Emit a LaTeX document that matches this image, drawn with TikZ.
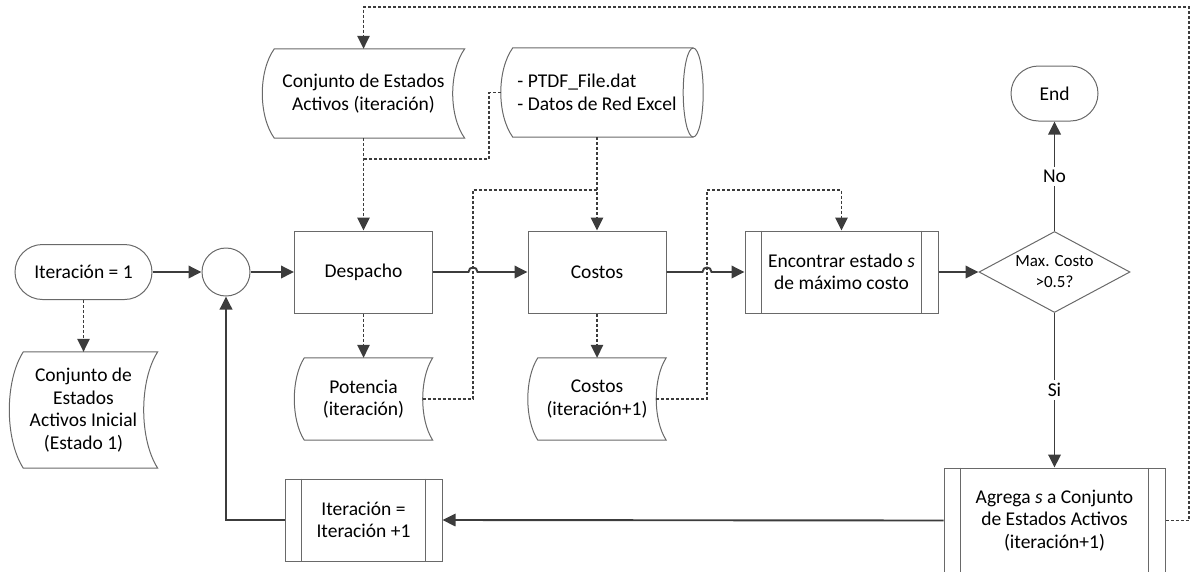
\documentclass[tikz,border=0pt]{standalone}
\usepackage{fontspec}
\setmainfont{Carlito}
\usetikzlibrary{arrows.meta,shapes.geometric,calc}

\definecolor{edgec}{RGB}{60,60,60}
\definecolor{olc}{RGB}{105,105,105}

% outline of a stored-data symbol drawn over a plain node (#1 = node, #2 = bulge)
\newcommand\storedoutline[2]{%
  \draw[outline] ([xshift=#2pt]#1.north west) -- (#1.north east)
    .. controls ($(#1.north east)!0.25!(#1.south east)+(-#2*1.333,0)$)
           and ($(#1.north east)!0.75!(#1.south east)+(-#2*1.333,0)$) .. (#1.south east)
    -- ([xshift=#2pt]#1.south west)
    .. controls ($(#1.north west)!0.75!(#1.south west)+(-#2/3,0)$)
           and ($(#1.north west)!0.25!(#1.south west)+(-#2/3,0)$) .. cycle;}

% the two inner bars of a predefined-process box
\newcommand\sidebars[1]{%
  \draw[outline] ([xshift=17pt]#1.north west) -- ([xshift=17pt]#1.south west)
                 ([xshift=-17pt]#1.north east) -- ([xshift=-17pt]#1.south east);}

\begin{document}
\begin{tikzpicture}[x=1pt,y=-1pt,
  every node/.style={font=\fontsize{19.5}{22.5}\selectfont, align=center, inner sep=0pt},
  outline/.style={draw=olc, line width=1pt},
  process/.style={outline, rectangle},
  terminal/.style={outline, rectangle, rounded corners=27.5pt, minimum height=55pt},
  junction/.style={outline, circle, minimum size=48pt},
  decision/.style={outline, diamond, minimum width=151pt, minimum height=81pt},
  holder/.style={rectangle},
  tip/.style={-{Triangle[length=13pt,width=12.5pt]}},
  flow/.style={draw=edgec, line width=1.9pt, tip},
  dataflow/.style={draw=edgec, line width=1.5pt, dash pattern=on 3pt off 2pt, tip},
  datalink/.style={draw=edgec, line width=1.5pt, dash pattern=on 3pt off 2pt},
  tag/.style={fill=white, inner sep=3pt}
]
\useasboundingbox (0,0) rectangle (1191,571);

% ---------- main row ----------
\node[terminal, minimum width=137pt] (start) at (83.5,272) {Iteración = 1};
\node[junction] (merge) at (226,272) {};
\node[process, minimum width=138pt, minimum height=82pt] (desp) at (363.5,272) {Despacho};
\node[process, minimum width=138pt, minimum height=82pt] (cost) at (597,272) {Costos};
\node[process, minimum width=193pt, minimum height=82pt] (find) at (841.5,272)
  {Encontrar estado \textit{s}\\de máximo costo};
\sidebars{find}
\node[decision] (dec) at (1054.5,272) {};
\node[font=\fontsize{17}{21}\selectfont] (dectext) at (dec.center) {Max. Costo\\>0.5?};
\node[terminal, minimum width=87pt] (stop) at (1054.5,93.5) {End};

% ---------- lower row ----------
\node[process, minimum width=221pt, minimum height=105pt] (add) at (1054.5,520.5)
  {Agrega \textit{s} a Conjunto\\de Estados Activos\\(iteración+1)};
\sidebars{add}
\node[process, minimum width=157pt, minimum height=82pt] (incr) at (363.5,520)
  {Iteración =\\Iteración +1};
\sidebars{incr}

% ---------- data symbols ----------
\node[holder, minimum width=202pt, minimum height=89pt] (set) at (363.5,93.5)
  {Conjunto de Estados\\Activos (iteración)};
\storedoutline{set}{12}
\node[holder, minimum width=192pt, minimum height=89pt, align=left] (ptdf) at (597,92.5)
  {- PTDF\_File.dat\\- Datos de Red Excel};
\draw[outline] (ptdf.north east) -- ([xshift=12pt]ptdf.north west)
  .. controls ($(ptdf.north west)!0.25!(ptdf.south west)+(-4,0)$)
         and ($(ptdf.north west)!0.75!(ptdf.south west)+(-4,0)$) .. ([xshift=12pt]ptdf.south west)
  -- (ptdf.south east);
\draw[outline] (ptdf.east) ellipse [x radius=10, y radius=44.5];
\node[holder, minimum width=138pt, minimum height=82pt] (pot) at (363.5,399)
  {Potencia\\(iteración)};
\storedoutline{pot}{10}
\node[holder, minimum width=138pt, minimum height=82pt] (costnew) at (597,399)
  {Costos\\(iteración+1)};
\storedoutline{costnew}{10}
\node[holder, minimum width=148pt, minimum height=116pt] (init) at (83.5,410)
  {Conjunto de\\Estados\\Activos Inicial\\(Estado 1)};
\storedoutline{init}{14}

% ---------- helper corners ----------
\coordinate (hopA) at (473,272);
\coordinate (hopB) at (707,272);
\coordinate (jSet) at (489,159);
\coordinate (jPot) at (473,190);
\coordinate (jCost) at (707,190);
\coordinate (loopTop) at (1189,7);

% ---------- solid flow ----------
\draw[flow] (start.east) -- (merge.west);
\draw[flow] (merge.east) -- (desp.west);
\draw[flow] (desp.east) -- ([xshift=-4.5pt]hopA)
  .. controls ([xshift=-4.5pt,yshift=6pt]hopA) and ([xshift=4.5pt,yshift=6pt]hopA) .. ([xshift=4.5pt]hopA)
  -- (cost.west);
\draw[flow] (cost.east) -- ([xshift=-4.5pt]hopB)
  .. controls ([xshift=-4.5pt,yshift=6pt]hopB) and ([xshift=4.5pt,yshift=6pt]hopB) .. ([xshift=4.5pt]hopB)
  -- (find.west);
\draw[flow] (find.east) -- (dec.west);
\draw[flow] (dec.north) -- node[tag] {No} (stop.south);
\draw[flow] (dec.south) -- node[tag] {Si} (add.north);
\draw[flow] (add.west) -- (incr.east);
\draw[flow] (incr.west) -- (incr.west -| merge.south) -- (merge.south);

% ---------- data flow ----------
\draw[dataflow] (start.south) -- (init.north);
\draw[dataflow] (desp.south) -- (pot.north);
\draw[dataflow] (cost.south) -- (costnew.north);
\draw[dataflow] (set.south) -- (desp.north);
\draw[datalink] (ptdf.west) -- (ptdf.west -| jSet) -- (jSet) -- (jSet -| set.south);
\draw[dataflow] (ptdf.south) -- (cost.north);
\draw[datalink] ([xshift=-10pt]pot.east) -- (pot.east -| jPot) -- (jPot) -- (jPot -| cost.north);
\draw[dataflow] ([xshift=-10pt]costnew.east) -- (costnew.east -| jCost) -- (jCost)
  -- (jCost -| find.north) -- (find.north);
\draw[dataflow] (add.east) -- (add.east -| loopTop) -- (loopTop) -- (loopTop -| set.north) -- (set.north);
\end{tikzpicture}
\end{document}
